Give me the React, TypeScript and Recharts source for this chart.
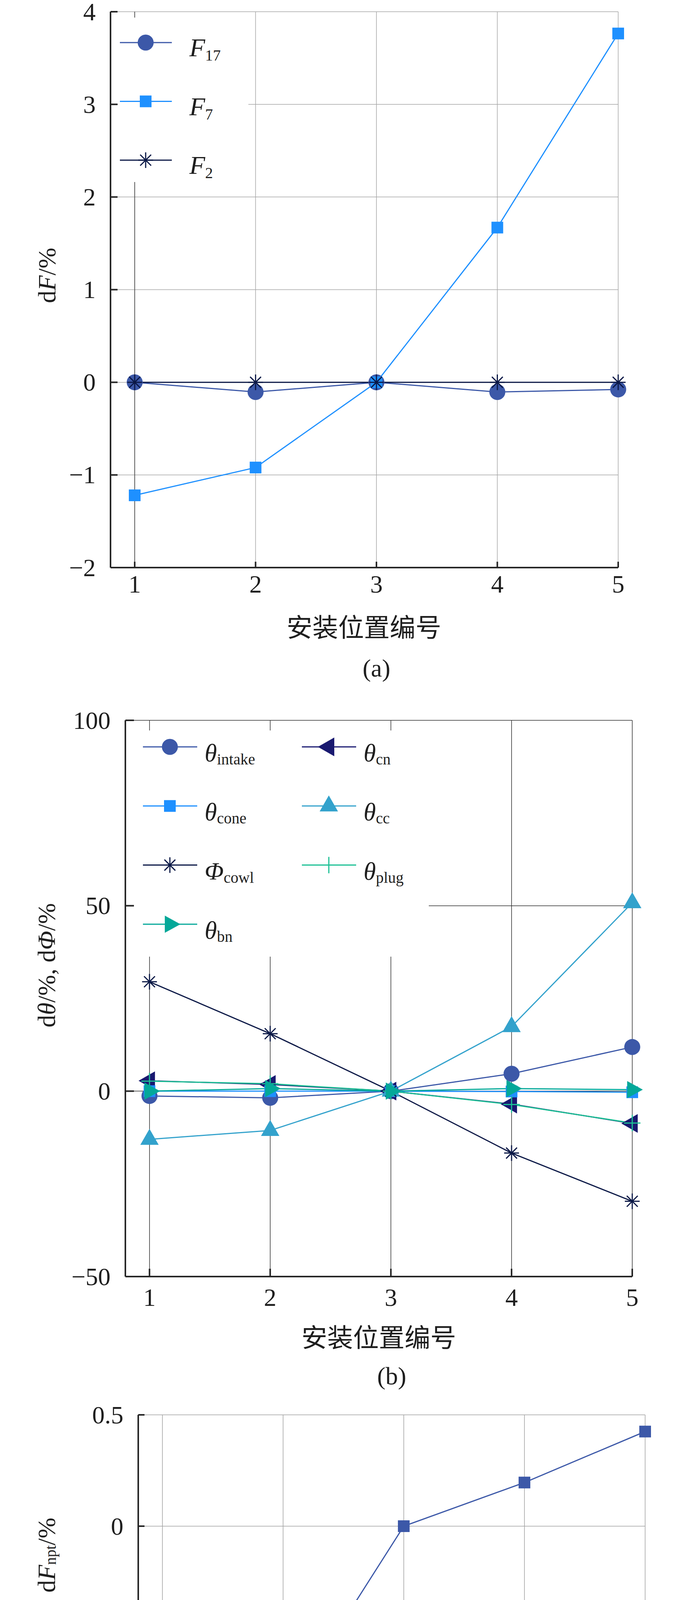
import React from 'react';
import {
  LineChart,
  Line,
  XAxis,
  YAxis,
  CartesianGrid,
  Legend,
  ReferenceLine,
  Label,
} from 'recharts';

const SERIF = "'Liberation Serif', 'Times New Roman', serif";
const CJK = "'Noto Sans CJK SC', 'Noto Sans CJK TC', sans-serif";
const AXIS = '#262626';
const TEXT = '#1e1e1e';

// 安装位置编号
const positions = [1, 2, 3, 4, 5];

// (a) dF/%
const f17 = [0, -0.105, 0, -0.105, -0.077];
const f7 = [-1.22, -0.92, 0, 1.67, 3.765];
const f2 = [0, 0, 0, 0, 0];
const ticksA = [-2, -1, 0, 1, 2, 3, 4];

// (b) dθ/%, dΦ/%
const thetaIntake = [-1.3, -1.8, 0, 4.7, 11.9];
const thetaCn = [2.8, 1.8, 0, -3.5, -8.7];
const thetaCone = [0, 0, 0, -0.1, -0.3];
const thetaCc = [-13.0, -10.6, 0, 17.4, 50.8];
const phiCowl = [29.5, 15.5, 0, -16.7, -29.7];
const thetaPlug = [2.7, 2.0, 0, -3.6, -8.6];
const thetaBn = [0, 0.7, 0, 0.7, 0.4];
const ticksB = [-50, 0, 50, 100];

// (c) dF_npt/%
const fNpt = [-1.032, -0.852, 0, 0.196, 0.425];
const ticksC = [-1.5, -1.0, -0.5, 0, 0.5];

type Shape = 'circle' | 'square' | 'star' | 'left' | 'up' | 'plus' | 'right';
type Series = { key: string; values: number[]; color: string; shape: Shape; main: string; sub: string };

const seriesA: Series[] = [
  { key: 'f17', values: f17, color: '#3c58a8', shape: 'circle', main: 'F', sub: '17' },
  { key: 'f7', values: f7, color: '#1e90ff', shape: 'square', main: 'F', sub: '7' },
  { key: 'f2', values: f2, color: '#0b1846', shape: 'star', main: 'F', sub: '2' },
];

// plotting order = legend order (row-wise, two columns)
const seriesB: Series[] = [
  { key: 'intake', values: thetaIntake, color: '#3c58a8', shape: 'circle', main: 'θ', sub: 'intake' },
  { key: 'cn', values: thetaCn, color: '#191970', shape: 'left', main: 'θ', sub: 'cn' },
  { key: 'cone', values: thetaCone, color: '#1e90ff', shape: 'square', main: 'θ', sub: 'cone' },
  { key: 'cc', values: thetaCc, color: '#33a2cc', shape: 'up', main: 'θ', sub: 'cc' },
  { key: 'cowl', values: phiCowl, color: '#0b1846', shape: 'star', main: 'Φ', sub: 'cowl' },
  { key: 'plug', values: thetaPlug, color: '#1cc095', shape: 'plus', main: 'θ', sub: 'plug' },
  { key: 'bn', values: thetaBn, color: '#04a899', shape: 'right', main: 'θ', sub: 'bn' },
];

const seriesC: Series[] = [
  { key: 'npt', values: fNpt, color: '#3c58a8', shape: 'square', main: 'F', sub: 'npt' },
];

const toRows = (list: Series[]) =>
  positions.map((x, i) => {
    const row: Record<string, number> = { x };
    list.forEach((s) => (row[s.key] = s.values[i]));
    return row;
  });

const dataA = toRows(seriesA);
const dataB = toRows(seriesB);
const dataC = toRows(seriesC);

const minus = (v: number) => (v < 0 ? `\u2212${-v}` : `${v}`);
const minusFixed = (v: number) => (v === 0 ? '0' : (v < 0 ? '\u2212' : '') + Math.abs(v).toFixed(1));

function Marker({ shape, cx, cy, color }: { shape: Shape; cx: number; cy: number; color: string }) {
  switch (shape) {
    case 'circle':
      return <circle cx={cx} cy={cy} r={20.5} fill={color} />;
    case 'square':
      return <rect x={cx - 15} y={cy - 15} width={30} height={30} fill={color} />;
    case 'star':
      return (
        <g stroke={color} strokeWidth={3}>
          <line x1={cx} x2={cx} y1={cy - 20} y2={cy + 20} />
          <line x1={cx - 19} x2={cx + 19} y1={cy} y2={cy} />
          <line x1={cx - 14} x2={cx + 14} y1={cy - 14} y2={cy + 14} />
          <line x1={cx - 14} x2={cx + 14} y1={cy + 14} y2={cy - 14} />
        </g>
      );
    case 'plus':
      return (
        <g stroke={color} strokeWidth={3}>
          <line x1={cx} x2={cx} y1={cy - 21} y2={cy + 21} />
          <line x1={cx - 21} x2={cx + 21} y1={cy} y2={cy} />
        </g>
      );
    case 'up':
      return (
        <polygon
          points={`${cx},${cy - 27} ${cx - 23.5},${cy + 14} ${cx + 23.5},${cy + 14}`}
          fill={color}
        />
      );
    case 'left':
      return (
        <polygon
          points={`${cx - 28},${cy} ${cx + 14},${cy - 24} ${cx + 14},${cy + 24}`}
          fill={color}
        />
      );
    case 'right':
      return (
        <polygon
          points={`${cx + 27},${cy} ${cx - 13},${cy - 22} ${cx - 13},${cy + 22}`}
          fill={color}
        />
      );
  }
  return null;
}

const XTick = ({ x, y, payload, len, gap }: any) => (
  <g>
    <line x1={x} x2={x} y1={y} y2={y - len} stroke={AXIS} strokeWidth={4} />
    <text
      x={x}
      y={y + gap}
      textAnchor="middle"
      dominantBaseline="central"
      fontSize={64}
      fontFamily={SERIF}
      fill={TEXT}
    >
      {payload.value}
    </text>
  </g>
);

const YTick = ({ x, y, payload, len, fmt }: any) => (
  <g>
    <line x1={x} x2={x + len} y1={y} y2={y} stroke={AXIS} strokeWidth={4} />
    <text
      x={x - 38}
      y={y}
      textAnchor="end"
      dominantBaseline="central"
      fontSize={64}
      fontFamily={SERIF}
      fill={TEXT}
    >
      {fmt(payload.value)}
    </text>
  </g>
);

function LegendItem({ s, x, y, lineX2, markX, textX, base, subDy, mainSize }: any) {
  return (
    <g>
      <line x1={x} x2={lineX2} y1={y} y2={y} stroke={s.color} strokeWidth={3} />
      <Marker shape={s.shape} cx={markX} cy={y} color={s.color} />
      <text x={textX} y={y + base} fontFamily={SERIF} fontSize={mainSize} fill={TEXT}>
        <tspan fontStyle="italic">{s.main}</tspan>
        <tspan fontSize={40} dy={subDy}>
          {s.sub}
        </tspan>
      </text>
    </g>
  );
}

function LegendA() {
  return (
    <svg width={334} height={421} style={{ display: 'block' }}>
      {seriesA.map((s, i) => (
        <LegendItem
          key={s.key}
          s={s}
          x={5}
          y={64 + i * 150.5}
          lineX2={138}
          markX={71}
          textX={183}
          base={35}
          subDy={11}
          mainSize={66}
        />
      ))}
    </svg>
  );
}

function LegendB() {
  return (
    <svg width={755} height={579} style={{ display: 'block' }}>
      {seriesB.map((s, i) => {
        const col = i % 2;
        const row = Math.floor(i / 2);
        const x0 = col === 0 ? 23 : 430;
        return (
          <LegendItem
            key={s.key}
            s={s}
            x={x0}
            y={42 + row * 151.3}
            lineX2={x0 + 139}
            markX={x0 + 69}
            textX={x0 + 158}
            base={37}
            subDy={8}
            mainSize={64}
          />
        );
      })}
    </svg>
  );
}

type PanelProps = {
  top: number;
  height: number;
  margin: { top: number; right: number; bottom: number; left: number };
  data: Record<string, number>[];
  series: Series[];
  yDomain: [number, number];
  yTicks: number[];
  yFmt: (v: number) => string;
  gridColor: string;
  yTickLen: number;
  xTickLen: number;
  xGap: number;
  yTitle: React.ReactNode;
  yTitlePos: [number, number];
  xTitlePos: [number, number];
  tag: string;
  tagPos: [number, number];
  legend?: React.ReactNode;
  extra?: React.ReactNode;
};

function Panel(p: PanelProps) {
  return (
    <div style={{ position: 'absolute', left: 0, top: p.top }}>
      <LineChart width={1772} height={p.height} data={p.data} margin={p.margin}>
        <CartesianGrid stroke={p.gridColor} strokeWidth={1.5} />
        {p.extra}
        <XAxis
          dataKey="x"
          type="number"
          domain={[0.8, 5]}
          ticks={positions}
          interval={0}
          height={100}
          tickSize={0}
          tickMargin={0}
          tickLine={false}
          axisLine={{ stroke: AXIS, strokeWidth: 4 }}
          tick={(t: any) => <XTick {...t} len={p.xTickLen} gap={p.xGap} />}
        >
          <Label
            content={() => (
              <g>
                <text
                  x={p.xTitlePos[0]}
                  y={p.xTitlePos[1]}
                  textAnchor="middle"
                  dominantBaseline="central"
                  fontSize={66}
                  fontFamily={CJK}
                  fill={TEXT}
                >
                  安装位置编号
                </text>
                <text
                  x={p.tagPos[0]}
                  y={p.tagPos[1]}
                  textAnchor="middle"
                  dominantBaseline="central"
                  fontSize={64}
                  fontFamily={SERIF}
                  fill={TEXT}
                >
                  {p.tag}
                </text>
              </g>
            )}
          />
        </XAxis>
        <YAxis
          type="number"
          domain={p.yDomain}
          ticks={p.yTicks}
          interval={0}
          width={100}
          tickSize={0}
          tickMargin={0}
          tickLine={false}
          axisLine={{ stroke: AXIS, strokeWidth: 4 }}
          tick={(t: any) => <YTick {...t} len={p.yTickLen} fmt={p.yFmt} />}
        >
          <Label
            content={() => (
              <text
                x={p.yTitlePos[0]}
                y={p.yTitlePos[1]}
                transform={`rotate(-90 ${p.yTitlePos[0]} ${p.yTitlePos[1]})`}
                textAnchor="middle"
                dominantBaseline="central"
                fontSize={64}
                fontFamily={SERIF}
                fill={TEXT}
              >
                {p.yTitle}
              </text>
            )}
          />
        </YAxis>
        {p.legend}
        {p.series.map((s) => (
          <Line
            key={s.key}
            dataKey={s.key}
            type="linear"
            stroke={s.color}
            strokeWidth={3}
            isAnimationActive={false}
            activeDot={false}
            dot={(d: any) => (
              <Marker key={`${s.key}-${d.index}`} shape={s.shape} cx={d.cx} cy={d.cy} color={s.color} />
            )}
          />
        ))}
      </LineChart>
    </div>
  );
}

export default function App() {
  return (
    <div
      style={{
        position: 'relative',
        width: 1772,
        height: 5044,
        background: '#fff',
        fontFamily: SERIF,
        overflow: 'hidden',
      }}
    >
      <style>{'body{margin:0;background:#fff}'}</style>

      <Panel
        top={0}
        height={1790}
        margin={{ top: 30, right: 189, bottom: 237, left: 183 }}
        data={dataA}
        series={seriesA}
        yDomain={[-2, 4]}
        yTicks={ticksA}
        yFmt={minus}
        gridColor="#a6a6a6"
        yTickLen={18}
        xTickLen={15}
        xGap={42}
        yTitle={
          <>
            d<tspan fontStyle="italic">F</tspan>/%
          </>
        }
        yTitlePos={[120, 705]}
        xTitlePos={[932, 1601]}
        tag="(a)"
        tagPos={[964, 1710]}
        extra={<ReferenceLine x={1} stroke="#3a3a3a" strokeWidth={1.5} />}
        legend={
          <Legend
            verticalAlign="middle"
            align="center"
            layout="horizontal"
            wrapperStyle={{ left: 302, top: 45, width: 334, height: 421, background: '#fff', lineHeight: 0 }}
            content={() => <LegendA />}
          />
        }
      />

      <Panel
        top={1790}
        height={1790}
        margin={{ top: 54, right: 153, bottom: 212, left: 221 }}
        data={dataB}
        series={seriesB}
        yDomain={[-50, 100]}
        yTicks={ticksB}
        yFmt={minus}
        gridColor="#2e2e2e"
        yTickLen={22}
        xTickLen={20}
        xGap={53}
        yTitle={
          <>
            d<tspan fontStyle="italic">θ</tspan>/%, d<tspan fontStyle="italic">Φ</tspan>/%
          </>
        }
        yTitlePos={[119, 681]}
        xTitlePos={[970, 1629]}
        tag="(b)"
        tagPos={[1003, 1732]}
        legend={
          <Legend
            verticalAlign="middle"
            align="center"
            layout="horizontal"
            wrapperStyle={{ left: 343, top: 80, width: 755, height: 579, background: '#fff', lineHeight: 0 }}
            content={() => <LegendB />}
          />
        }
      />

      <Panel
        top={3580}
        height={1464}
        margin={{ top: 42, right: 120, bottom: 182, left: 254 }}
        data={dataC}
        series={seriesC}
        yDomain={[-1.5, 0.5]}
        yTicks={ticksC}
        yFmt={minusFixed}
        gridColor="#a0a0a0"
        yTickLen={16}
        xTickLen={30}
        xGap={51}
        yTitle={
          <>
            d<tspan fontStyle="italic">F</tspan>
            <tspan fontSize={39} dy={10}>
              npt
            </tspan>
            <tspan dy={-10}>/%</tspan>
          </>
        }
        yTitlePos={[119, 401]}
        xTitlePos={[1001, 1328]}
        tag="(c)"
        tagPos={[1002, 1424]}
      />
    </div>
  );
}
